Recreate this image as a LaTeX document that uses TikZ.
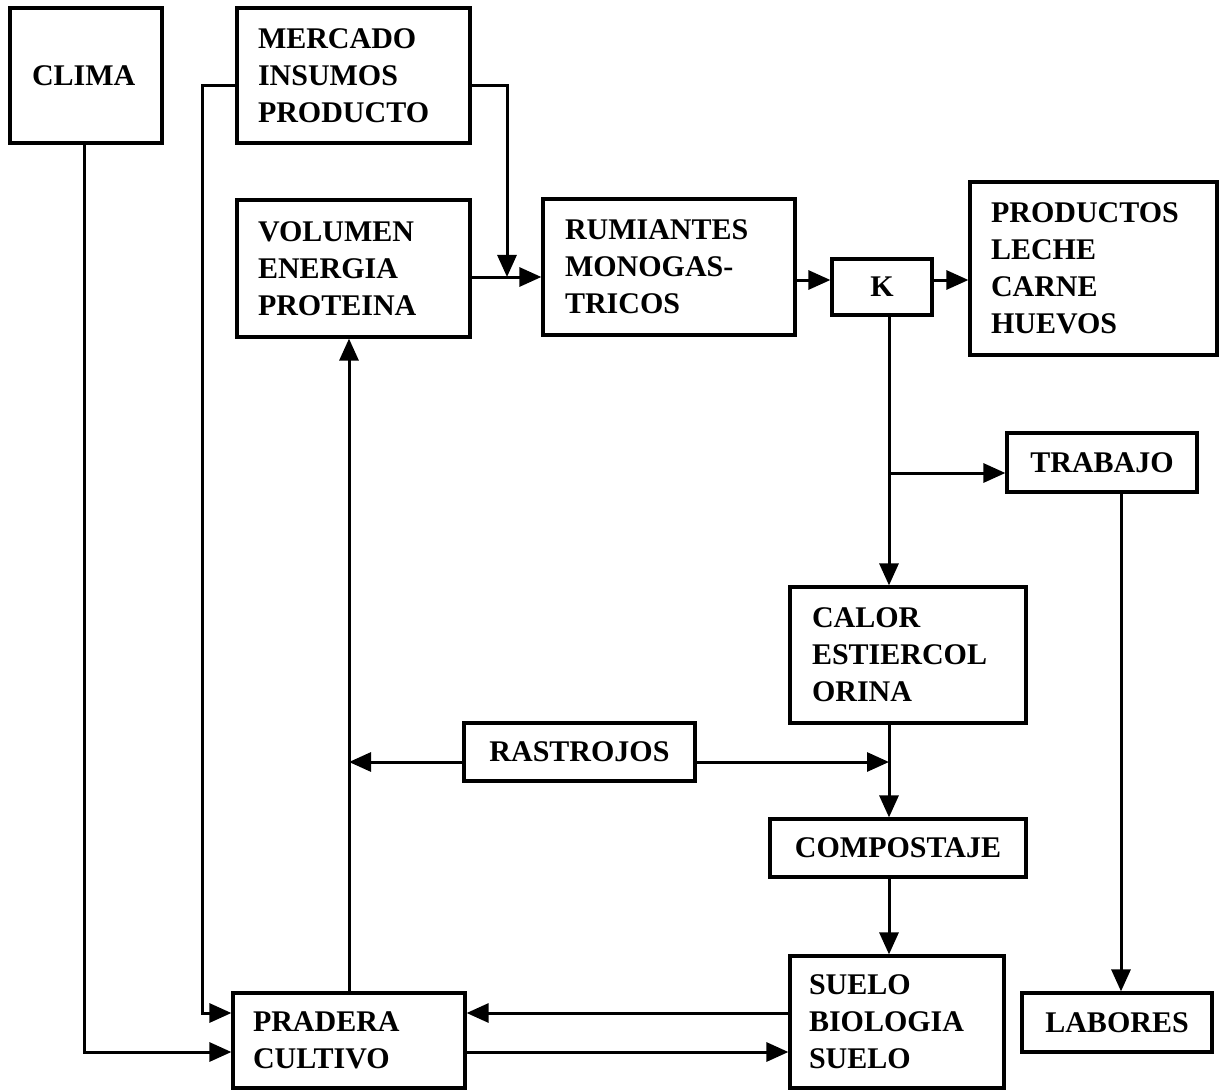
\documentclass[tikz,border=0pt]{standalone}
\usepackage{fontspec}
\setmainfont{Liberation Serif}
\usetikzlibrary{arrows.meta,calc}
\begin{document}
\begin{tikzpicture}[x=1pt,y=-1pt,
  box/.style={draw, line width=3.2pt, inner sep=0pt, font=\bfseries\fontsize{30}{37}\selectfont},
  cbox/.style={box, align=center},
  lbox/.style={box, align=left},
  ar/.style={line width=3pt, -{Triangle[length=22pt,width=19pt]}}
]
\useasboundingbox (0,0) rectangle (1220,1091);
% nodes
\node[lbox, inner xsep=22pt, text width=108pt, minimum height=135pt] (clima) at (86,75.5) {CLIMA};
\node[lbox, inner xsep=21pt, text width=191pt, minimum height=135pt] (mercado) at (353.5,75.5) {MERCADO\\INSUMOS\\PRODUCTO};
\node[lbox, inner xsep=21pt, text width=191pt, minimum height=137pt] (volumen) at (353.5,268.5) {VOLUMEN\\ENERGIA\\PROTEINA};
\node[lbox, inner xsep=22pt, text width=208pt, minimum height=136pt] (rumiantes) at (669,267) {RUMIANTES\\MONOGAS-\\TRICOS};
\node[cbox, minimum width=100pt, minimum height=56pt] (k) at (882,287) {K};
\node[lbox, inner xsep=21pt, text width=205pt, minimum height=173pt] (productos) at (1093.5,268.5) {PRODUCTOS\\LECHE\\CARNE\\HUEVOS};
\node[cbox, minimum width=190pt, minimum height=59pt] (trabajo) at (1102,462.5) {TRABAJO};
\node[lbox, inner xsep=22pt, text width=192pt, minimum height=136pt] (calor) at (908,655) {CALOR\\ESTIERCOL\\ORINA};
\node[cbox, minimum width=231pt, minimum height=58pt] (rastrojos) at (579.5,752) {RASTROJOS};
\node[cbox, minimum width=256pt, minimum height=58pt] (compostaje) at (898,848) {COMPOSTAJE};
\node[lbox, inner xsep=19pt, text width=176pt, minimum height=132pt] (suelo) at (897,1022) {SUELO\\BIOLOGIA\\SUELO};
\node[lbox, inner xsep=20pt, text width=192pt, minimum height=95pt] (pradera) at (349,1040.5) {PRADERA\\CULTIVO};
\node[cbox, minimum width=190pt, minimum height=59pt] (labores) at (1117,1022.5) {LABORES};
% helper coordinates
\coordinate (ymk) at (0,86);
\coordinate (yr) at (0,277);
\coordinate (yk) at (0,280);
\coordinate (yt) at (0,473);
\coordinate (yra) at (0,762);
\coordinate (ya) at (0,1013);
\coordinate (yb) at (0,1052);
\coordinate (xv) at (889,0);
\coordinate (xl) at (349,0);
\coordinate (xt) at (1121,0);
\coordinate (xm) at (202,0);
\coordinate (xj) at (507,0);
\coordinate (xc) at (84,0);
% connectors
\draw[ar] (clima.south -| xc) |- (pradera.west |- yb);
\draw[ar] (mercado.west |- ymk) -- (xm |- ymk) |- (pradera.west |- ya);
\draw[ar] (mercado.east |- ymk) -| (xj |- yr);
\draw[ar] (volumen.east |- yr) -- (rumiantes.west |- yr);
\draw[ar] (rumiantes.east |- yk) -- (k.west |- yk);
\draw[ar] (k.east |- yk) -- (productos.west |- yk);
\draw[ar] (k.south -| xv) -- (calor.north -| xv);
\draw[ar] (xv |- yt) -- (trabajo.west |- yt);
\draw[ar] (trabajo.south -| xt) -- (labores.north -| xt);
\draw[ar] (calor.south -| xv) -- (compostaje.north -| xv);
\draw[ar] (rastrojos.west |- yra) -- (xl |- yra);
\draw[ar] (rastrojos.east |- yra) -- (xv |- yra);
\draw[ar] (compostaje.south -| xv) -- (suelo.north -| xv);
\draw[ar] (pradera.north -| xl) -- (volumen.south -| xl);
\draw[ar] (suelo.west |- ya) -- (pradera.east |- ya);
\draw[ar] (pradera.east |- yb) -- (suelo.west |- yb);
\end{tikzpicture}
\end{document}
